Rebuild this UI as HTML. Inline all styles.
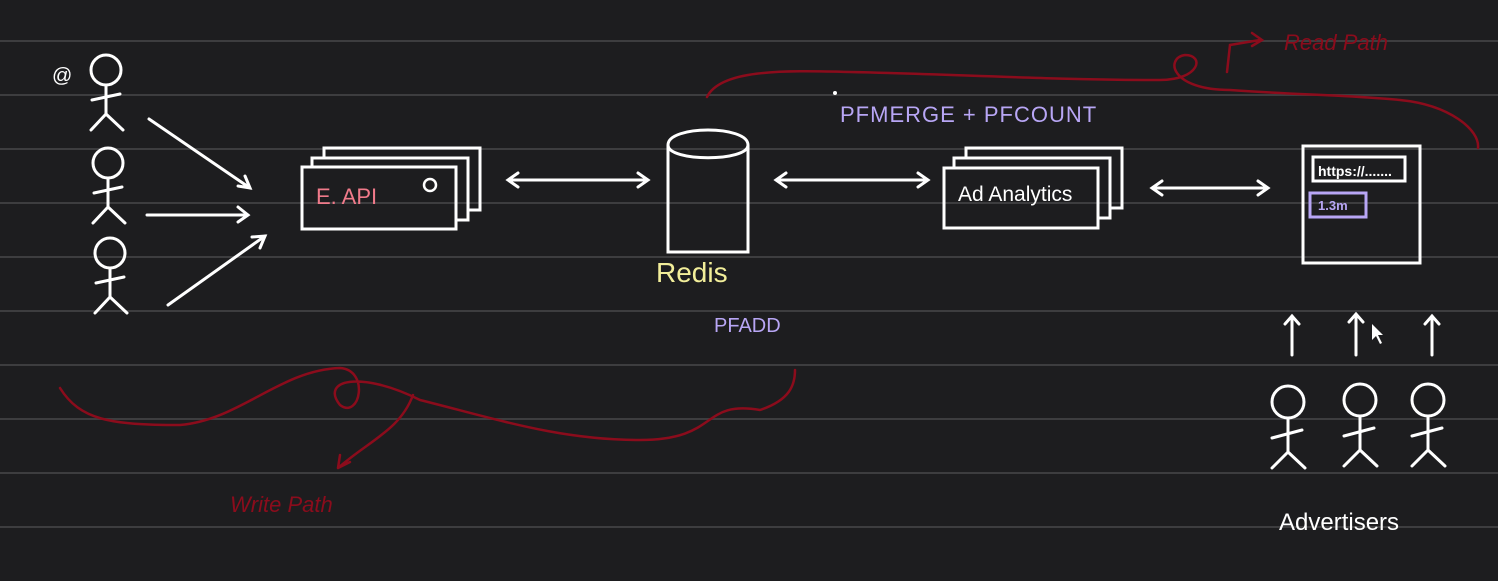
<!DOCTYPE html>
<html><head><meta charset="utf-8"><style>
html,body{margin:0;padding:0;background:#1d1d1f;}
svg{display:block;}
text{font-family:"Liberation Sans",sans-serif;}
</style></head><body>
<svg width="1498" height="581" viewBox="0 0 1498 581" xmlns="http://www.w3.org/2000/svg">
<rect width="1498" height="581" fill="#1d1d1f"/>
<g stroke="#3d3d3f" stroke-width="2">
<line x1="0" y1="41" x2="1498" y2="41"/><line x1="0" y1="95" x2="1498" y2="95"/>
<line x1="0" y1="149" x2="1498" y2="149"/><line x1="0" y1="203" x2="1498" y2="203"/>
<line x1="0" y1="257" x2="1498" y2="257"/><line x1="0" y1="311" x2="1498" y2="311"/>
<line x1="0" y1="365" x2="1498" y2="365"/><line x1="0" y1="419" x2="1498" y2="419"/>
<line x1="0" y1="473" x2="1498" y2="473"/><line x1="0" y1="527" x2="1498" y2="527"/>
</g>
<defs>
<g id="man" fill="none" stroke="#fff" stroke-width="3" stroke-linecap="round">
<circle cx="0" cy="0" r="15"/><line x1="0" y1="15" x2="0" y2="44"/>
<line x1="-14" y1="30" x2="14" y2="24"/><line x1="-15" y1="60" x2="0" y2="44"/><line x1="0" y1="44" x2="17" y2="60"/>
</g>
<g id="man2" fill="none" stroke="#fff" stroke-width="3" stroke-linecap="round">
<circle cx="0" cy="0" r="16"/><line x1="0" y1="16" x2="0" y2="50"/>
<line x1="-16" y1="36" x2="14" y2="28"/><line x1="-16" y1="66" x2="0" y2="50"/><line x1="0" y1="50" x2="17" y2="66"/>
</g>
</defs>
<use href="#man" x="106" y="70"/><use href="#man" x="108" y="163"/><use href="#man" x="110" y="253"/>
<use href="#man2" x="1288" y="402"/><use href="#man2" x="1360" y="400"/><use href="#man2" x="1428" y="400"/>
<text x="52" y="82" fill="#fff" font-size="20">@</text>
<g fill="none" stroke="#fff" stroke-width="3" stroke-linecap="round">
<path d="M149 119 L250 188 M238 186 L250 188 L245 176"/>
<path d="M147 215 L248 215 M238 207 L248 215 L238 222"/>
<path d="M168 305 L265 236 M252 237 L265 236 L260 248"/>
<rect x="302" y="167" width="154" height="62"/>
<path d="M312 167 L312 158 L468 158 L468 220 L456 220 M324 158 L324 148 L480 148 L480 210 L468 210"/>
<path d="M508 180 L648 180 M518 173 L508 180 L518 187 M638 173 L648 180 L638 187"/>
<path d="M668 145 C668 125 748 125 748 145 L748 252 L668 252 Z M668 145 C668 162 748 162 748 145"/>
<path d="M776 180 L928 180 M786 173 L776 180 L786 187 M918 173 L928 180 L918 187"/>
<rect x="944" y="168" width="154" height="60"/>
<path d="M954 168 L954 158 L1110 158 L1110 218 L1098 218 M966 158 L966 148 L1122 148 L1122 208 L1110 208"/>
<path d="M1152 188 L1268 188 M1162 181 L1152 188 L1162 195 M1258 181 L1268 188 L1258 195"/>
<rect x="1303" y="146" width="117" height="117"/>
<rect x="1313" y="157" width="92" height="24"/>
<path d="M1292 355 L1292 316 M1285 324 L1292 316 L1299 324"/>
<path d="M1356 355 L1356 314 M1349 322 L1356 314 L1363 322"/>
<path d="M1432 355 L1432 316 M1425 324 L1432 316 L1439 324"/>
</g>
<circle cx="430" cy="185" r="6" fill="none" stroke="#fff" stroke-width="2.5"/>
<text x="316" y="204" fill="#f07a8a" font-size="22">E. API</text>
<text x="958" y="201" fill="#fff" font-size="21">Ad Analytics</text>
<text x="1318" y="176" fill="#fff" font-size="14" font-weight="bold">https://.......</text>
<rect x="1310" y="193" width="56" height="24" fill="none" stroke="#b8a6f5" stroke-width="3"/>
<text x="1318" y="210" fill="#b8a6f5" font-size="13" font-weight="bold">1.3m</text>
<text x="656" y="282" fill="#f2ee9a" font-size="28">Redis</text>
<text x="840" y="122" fill="#b8a6f5" font-size="22" letter-spacing="1">PFMERGE + PFCOUNT</text>
<text x="714" y="332" fill="#b8a6f5" font-size="20">PFADD</text>
<text x="1279" y="530" fill="#fff" font-size="24">Advertisers</text>
<g fill="none" stroke="#8b0c1c" stroke-width="2.5" stroke-linecap="round">
<path d="M60 388 C80 420 110 425 180 425 C240 420 280 370 340 368 C370 370 360 420 340 405 C320 380 360 370 420 400 C500 420 560 440 640 440 C720 440 700 400 760 410 C790 400 795 385 795 370"/>
<path d="M413 395 C400 430 370 440 338 468 M338 468 L350 462 M338 468 L340 455"/>
<path d="M707 97 C720 70 780 70 850 72 C950 74 1050 80 1160 80 C1200 80 1205 55 1185 55 C1165 58 1170 90 1230 90 C1300 95 1350 95 1400 100 C1450 105 1480 130 1478 148"/>
<path d="M1227 72 L1230 45 L1260 40 M1252 33 L1262 40 L1252 46"/>
</g>
<text x="1284" y="50" fill="#8b0c1c" font-size="22" font-style="italic">Read Path</text>
<text x="230" y="512" fill="#8b0c1c" font-size="22" font-style="italic">Write Path</text>
<circle cx="835" cy="93" r="2" fill="#fff"/>
<path d="M1372 324 L1372 340 L1376 336 L1380 344 L1382 343 L1378 335 L1383 335 Z" fill="#fff"/>
</svg>
</body></html>
